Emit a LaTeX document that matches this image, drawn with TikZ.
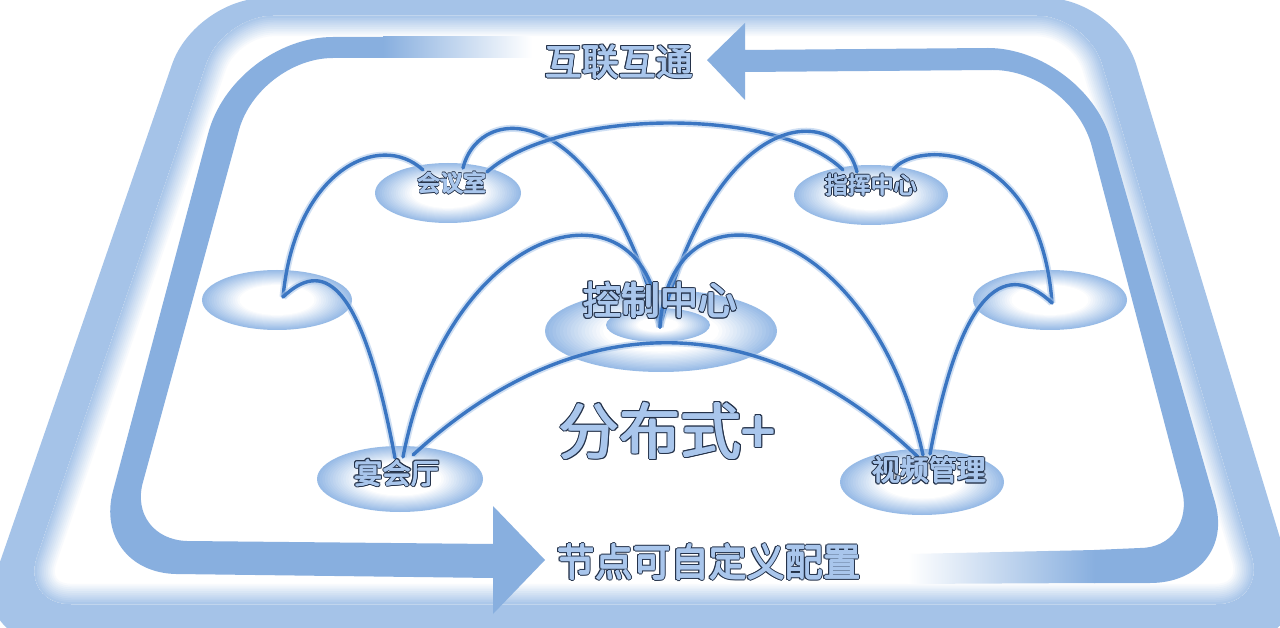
\documentclass[tikz,border=0pt]{standalone}
\usepackage{fontspec}
\newfontfamily\cjkfont{Noto Sans CJK SC}
\usetikzlibrary{calc}
\definecolor{bandcol}{HTML}{A5C3E8}
\definecolor{arrowcol}{HTML}{88AFDF}
\definecolor{ellcol}{HTML}{98BBE6}
\definecolor{linecol}{HTML}{3B76C2}
\definecolor{glowcol}{HTML}{A9C6EA}
\definecolor{txtfill}{HTML}{A9C6EC}
\definecolor{txtline}{HTML}{24324A}
\newcommand\gradell[4]{%
  \foreach \i in {0,...,16}{%
    \pgfmathsetmacro\ff{1-(1-#4)*\i/16}%
    \pgfmathsetmacro\pp{100-100*\i/16}%
    \fill[fill=ellcol!\pp!white] #1 ellipse [x radius={#2*\ff}, y radius={#3*\ff}];
  }}
\newcommand\olabel[5]{%
  \foreach \ang in {0,30,...,330}{%
    \node[lbl,text=txtline,font=\cjkfont\fontsize{#3}{#3}\selectfont] at ($#2+(\ang:#4+0.6)$) {#5};
  }
  \foreach \ang in {0,90,180,270}{%
    \node[lbl,text=txtfill,font=\cjkfont\fontsize{#3}{#3}\selectfont] at ($#2+(\ang:0.6)$) {#5};
  }
  \node[lbl,text=txtfill,font=\cjkfont\fontsize{#3}{#3}\selectfont] (#1) at #2 {#5};
}
\begin{document}
\begin{tikzpicture}[x=1pt,y=-1pt,
  lbl/.style={inner sep=0pt, anchor=center},
  conn/.style={line width=3.4pt, draw=linecol, line cap=round,
    preaction={draw=glowcol, line width=7pt, opacity=0.55}}]
\useasboundingbox (0,0) rectangle (1280,628);
\clip (0,0) rectangle (1280,628);
\fill[white] (0,0) rectangle (1280,628);
% outer frame band
\fill[bandcol, rounded corners=70pt] (195,-2) -- (1116,-2) -- (1311,640) -- (-27,640) -- cycle;
\begin{scope}
  \clip[rounded corners=50pt] (223,16) -- (1087,16) -- (1266,604) -- (21,604) -- cycle;
  \fill[white] (0,0) rectangle (1280,628);
  \foreach \i in {12,...,1}{%
    \pgfmathsetmacro\ww{44*\i/12}%
    \pgfmathsetmacro\pp{100-100*\i/12}%
    \draw[line width=\ww pt, draw=bandcol!\pp!white, rounded corners=50pt]
      (223,16) -- (1087,16) -- (1266,604) -- (21,604) -- cycle;
  }
\end{scope}
% left arrow
\fill[arrowcol] (384,37) -- (333,37) .. controls (278,37) and (222,80) .. (208,134)
  -- (113,491) .. controls (101,536) and (129,573) .. (176,574)
  -- (493,578) -- (493,614) -- (545,560) -- (493,506) -- (493,544)
  -- (187,541) .. controls (154,540) and (134,514) .. (143,482)
  -- (239,130) .. controls (250,90) and (292,58) .. (333,58)
  -- (384,58) -- cycle;
\shade[left color=arrowcol, right color=white] (383,37) rectangle (532,58);
% right arrow
\fill[arrowcol] (1094,550) -- (1140,548) .. controls (1171,548) and (1190,522) .. (1182,490)
  -- (1092,147) .. controls (1081,104) and (1037,70) .. (993,70)
  -- (745,72) -- (745,100) -- (707,60) -- (745,23) -- (745,50)
  -- (988,48) .. controls (1040,48) and (1095,88) .. (1110,138)
  -- (1215,502) .. controls (1228,547) and (1199,583) .. (1150,583)
  -- (1094,583) -- cycle;
\shade[left color=white, right color=arrowcol] (908,554) -- (1095,550) -- (1095,583) -- (908,584) -- cycle;
% ellipses
\coordinate (e-hys) at (448,193);
\coordinate (e-zhz) at (871,195);
\coordinate (e-left) at (277,300);
\coordinate (e-right) at (1050,300);
\coordinate (e-yht) at (400,479);
\coordinate (e-sp) at (922,482);
\coordinate (e-kz) at (661,331);
\coordinate (e-kzin) at (658,325);
\gradell{(e-hys)}{73}{30}{0.5}
\gradell{(e-zhz)}{77}{30}{0.5}
\gradell{(e-left)}{75}{30}{0.5}
\gradell{(e-right)}{77}{30}{0.5}
\gradell{(e-yht)}{83}{33}{0.5}
\gradell{(e-sp)}{82}{33}{0.5}
\gradell{(e-kz)}{116}{41}{0.5}
\gradell{(e-kzin)}{52}{17}{0.4}
% connector ports
\coordinate (lcusp) at (283,297);
\coordinate (rcusp) at (1052,303);
\coordinate (kzcusp) at (660,327);
\coordinate (hys-1) at (423,170);
\coordinate (hys-a) at (463,168);
\coordinate (hys-b) at (487,172);
\coordinate (zhz-b) at (843,170);
\coordinate (zhz-c) at (857,172);
\coordinate (zhz-d) at (893,170);
\coordinate (yht-1) at (395,458);
\coordinate (yht-f) at (403,457);
\coordinate (yht-h) at (413,455);
\coordinate (sp-h) at (918,457);
\coordinate (sp-g) at (923,455);
\coordinate (sp-e) at (930,454);
% connectors
\draw[conn] (lcusp) .. controls (295,170) and (380,130) .. (hys-1);
\draw[conn] (lcusp) .. controls (320,262) and (360,270) .. (yht-1);
\draw[conn] (hys-a) .. controls (480,100) and (600,100) .. (kzcusp);
\draw[conn] (hys-b) .. controls (560,107) and (780,107) .. (zhz-b);
\draw[conn] (kzcusp) .. controls (720,100) and (840,104) .. (zhz-c);
\draw[conn] (zhz-d) .. controls (915,140) and (1040,140) .. (rcusp);
\draw[conn] (rcusp) .. controls (1015,268) and (965,266) .. (sp-e);
\draw[conn] (yht-f) .. controls (450,215) and (650,170) .. (kzcusp);
\draw[conn] (kzcusp) .. controls (670,170) and (870,215) .. (sp-g);
\draw[conn] (yht-h) .. controls (576,305) and (760,305) .. (sp-h);
% labels
\olabel{t-top}{(619,62)}{37}{1.0}{互联互通}
\olabel{t-bottom}{(709,562)}{38}{1.0}{节点可自定义配置}
\olabel{t-center}{(667,431)}{61}{1.2}{分布式+}
\olabel{t-kz}{(660,300)}{38.5}{1.0}{控制中心}
\olabel{t-hys}{(452,183)}{23}{0.8}{会议室}
\olabel{t-zhz}{(871,185)}{23}{0.8}{指挥中心}
\olabel{t-yht}{(397,473)}{28.5}{0.9}{宴会厅}
\olabel{t-sp}{(929,470)}{28.5}{0.9}{视频管理}
\end{tikzpicture}
\end{document}
